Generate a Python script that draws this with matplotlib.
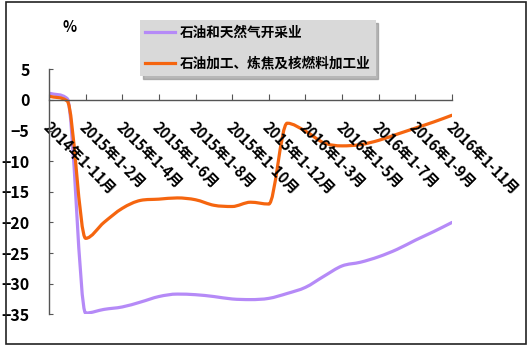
import numpy as np
from matplotlib import pyplot as plt
from matplotlib.path import Path
from matplotlib.patches import PathPatch, Rectangle
from matplotlib.lines import Line2D
from matplotlib import transforms

plt.rcParams['font.family'] = ['Noto Sans CJK SC', 'DejaVu Sans']
plt.rcParams['font.weight'] = 'bold'

months = ["2014年1-11月", "2014年1-12月",
          "2015年1-2月", "2015年1-3月", "2015年1-4月", "2015年1-5月", "2015年1-6月",
          "2015年1-7月", "2015年1-8月", "2015年1-9月", "2015年1-10月", "2015年1-11月",
          "2015年1-12月",
          "2016年1-2月", "2016年1-3月", "2016年1-4月", "2016年1-5月", "2016年1-6月",
          "2016年1-7月", "2016年1-8月", "2016年1-9月", "2016年1-10月", "2016年1-11月"]
mining = [1.1, 0.2, -34.8, -34.2, -33.8, -33.0, -32.1, -31.7, -31.8, -32.1, -32.5, -32.6,
          -32.4, -31.6, -30.6, -28.8, -27.1, -26.5, -25.6, -24.4, -22.9, -21.5, -20.0]
refining = [0.6, -0.2, -22.6, -20.0, -17.7, -16.4, -16.2, -16.0, -16.3, -17.2, -17.4, -16.7,
            -17.0, -3.8, -5.1, -7.0, -7.5, -7.3, -6.6, -5.6, -4.6, -3.6, -2.5]
names = ["石油和天然气开采业", "石油加工、炼焦及核燃料加工业"]
colors = ["#b58af7", "#f5650f"]


def smooth_path(y):
    # cubic bezier through the points, tangents limited so it does not overshoot
    y = np.asarray(y, dtype=float)
    n = len(y)
    d = np.diff(y)
    m = np.zeros(n)
    m[0], m[-1] = d[0], d[-1]
    for i in range(1, n - 1):
        if d[i - 1] * d[i] > 0:
            m[i] = np.sign(d[i]) * min(abs(d[i - 1] + d[i]) / 2,
                                       3 * min(abs(d[i - 1]), abs(d[i])))
    verts = [(0.0, y[0])]
    codes = [Path.MOVETO]
    for i in range(n - 1):
        verts += [(i + 1 / 3, y[i] + m[i] / 3), (i + 2 / 3, y[i + 1] - m[i + 1] / 3),
                  (i + 1.0, y[i + 1])]
        codes += [Path.CURVE4] * 3
    return Path(verts, codes)


W, H = 532, 353
fig = plt.figure(figsize=(W / 100, H / 100), dpi=100)
ax = fig.add_axes([49 / W, 1 - 314.3 / H, (452 - 49) / W, (314.3 - 69.3) / H])

for y, c in zip([mining, refining], colors):
    ax.add_patch(PathPatch(smooth_path(y), fill=False, edgecolor=c, lw=2.3,
                           capstyle='round', joinstyle='round'))

ax.set_xlim(0, len(months) - 1)
ax.set_ylim(-35, 5)
ax.set_yticks(range(-35, 6, 5))
ax.set_xticks(range(0, len(months), 2))
ax.set_xticklabels(months[::2])

ax.spines['top'].set_visible(False)
ax.spines['right'].set_visible(False)
ax.spines['bottom'].set_position(('data', 0))
for s in ['left', 'bottom']:
    ax.spines[s].set_color('#555555')
    ax.spines[s].set_linewidth(1.0)
ax.tick_params(axis='y', direction='in', length=3, color='#555555', pad=14, labelsize=11.5)
ax.tick_params(axis='x', direction='in', length=4, color='#555555', pad=14, labelsize=10.5)
shift = transforms.ScaledTranslation(2 / 100, 0, fig.dpi_scale_trans)
for lab in ax.get_xticklabels():
    lab.set_rotation(-45)
    lab.set_ha('left')
    lab.set_rotation_mode('anchor')
    lab.set_transform(lab.get_transform() + shift)
ax.patch.set_visible(False)

fig.text(70 / W, 1 - 27 / H, "%", ha='center', va='center', fontsize=10.5)

handles = [Line2D([], [], color=c, lw=2.3) for c in colors]
fig.legend(handles, names, loc='upper left', bbox_to_anchor=(140 / W, 1 - 20 / H),
           borderaxespad=0, fontsize=9.8, facecolor='#d9d9d9', edgecolor='none',
           framealpha=1, fancybox=False, shadow={'color': '#888888', 'alpha': 0.6},
           handlelength=2.2, handletextpad=0.3, labelspacing=1.25, borderpad=0.4)

fig.patches.append(Rectangle((6 / W, 1 - 344 / H), 520 / W, 342 / H, transform=fig.transFigure,
                             fill=False, edgecolor='#222222', lw=1.2))

fig.savefig("out.png", dpi=100)
